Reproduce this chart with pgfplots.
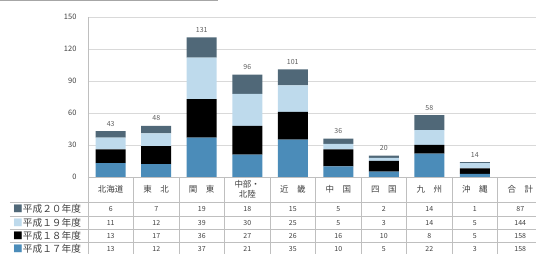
\documentclass[border=0pt]{standalone}
\usepackage{pgfplots}
\pgfplotsset{compat=1.18}
\usepackage{pgfplotstable}
\usepackage{fontspec}
\setmainfont{Noto Sans CJK JP}
\definecolor{cA}{HTML}{4B8CB9}
\definecolor{cB}{HTML}{000000}
\definecolor{cC}{HTML}{BEDAEC}
\definecolor{cD}{HTML}{506878}
\definecolor{gridc}{HTML}{D9D9D9}
\definecolor{linec}{HTML}{BFBFBF}
\definecolor{txt}{HTML}{404040}
\pgfplotstableread{
x s1 s2 s3 s4 tot
0 13 13 11 6 43
1 12 17 12 7 48
2 37 36 39 19 131
3 21 27 30 18 96
4 35 26 25 15 101
5 10 16 5 5 36
6 5 10 3 2 20
7 22 8 14 14 58
8 3 5 5 1 14
9 158 158 144 87 547
}\data
\pgfplotsset{/pgf/number format/assume math mode=true}
\begin{document}
\begin{tikzpicture}
\useasboundingbox (-88pt,-77pt) rectangle (448pt,177pt);
\begin{axis}[
  at={(0,0)}, anchor=south west, scale only axis,
  width=448pt, height=160pt,
  xmin=-0.5, xmax=9.346, ymin=0, ymax=150,
  ybar stacked, bar width=30pt,
  ytick={0,30,...,150},
  ymajorgrids, grid style={gridc, line width=0.6pt},
  axis lines*=left, axis line style={linec, line width=0.6pt},
  xtick={0,...,9},
  xticklabels={北海道, 東　北, 関　東, {中部・\\北陸}, 近　畿, 中　国, 四　国, 九　州, 沖　縄, 合　計},
  major tick length=0pt,
  yticklabel style={font=\fontsize{7.5}{8}\selectfont, text=txt, xshift=-8pt},
  xticklabel style={font=\fontsize{8.5}{9.5}\selectfont, text=txt, anchor=center, yshift=-12.5pt, align=center},
  clip=false,
]
\addplot[fill=cA, draw=none, skip coords between index={9}{10}] table[x=x,y=s1]{\data};
\addplot[fill=cB, draw=none, skip coords between index={9}{10}] table[x=x,y=s2]{\data};
\addplot[fill=cC, draw=none, skip coords between index={9}{10}] table[x=x,y=s3]{\data};
\addplot[fill=cD, draw=none, skip coords between index={9}{10}] table[x=x,y=s4]{\data};
\end{axis}
\begin{axis}[
  at={(0,0)}, anchor=south west, scale only axis,
  width=448pt, height=160pt,
  xmin=-0.5, xmax=9.346, ymin=0, ymax=150,
  axis lines=none, clip=false,
  nodes near coords, point meta=explicit,
  every node near coord/.style={anchor=center, font=\fontsize{7}{8}\selectfont, text=txt},
]
\addplot[draw=none, skip coords between index={9}{10},
  every node near coord/.append style={anchor=south, yshift=1.5pt, text=txt!85}] table[x=x, y=tot, meta=tot]{\data};
\addplot[draw=none] table[x=x, y expr=-30, meta=s4]{\data};
\addplot[draw=none] table[x=x, y expr=-43.1, meta=s3]{\data};
\addplot[draw=none] table[x=x, y expr=-55.3, meta=s2]{\data};
\addplot[draw=none] table[x=x, y expr=-67.5, meta=s1]{\data};
\end{axis}
% table grid
\foreach \yy in {-25,-39,-52,-65} \draw[linec, line width=0.5pt] (-78pt,\yy pt) -- (448pt,\yy pt);
\foreach \k in {1,...,9} \draw[linec, line width=0.5pt] (45.5*\k pt,0pt) -- (45.5*\k pt,-77pt);
\draw[linec, line width=0.6pt] (0pt,0pt) -- (0pt,-77pt);
\draw[gray!70, line width=1.5pt] (-88pt,176.5pt) -- (130pt,176.5pt);
% row labels
\begin{scope}[every node/.style={anchor=west, font=\fontsize{9.7}{10}\selectfont, text=txt, inner sep=0pt}]
\node at (-75pt,-32pt) {{\color{cD}■}平成２０年度};
\node at (-75pt,-46pt) {{\color{cC}■}平成１９年度};
\node at (-75pt,-59pt) {{\color{cB}■}平成１８年度};
\node at (-75pt,-72pt) {{\color{cA}■}平成１７年度};
\end{scope}
\end{tikzpicture}
\end{document}
